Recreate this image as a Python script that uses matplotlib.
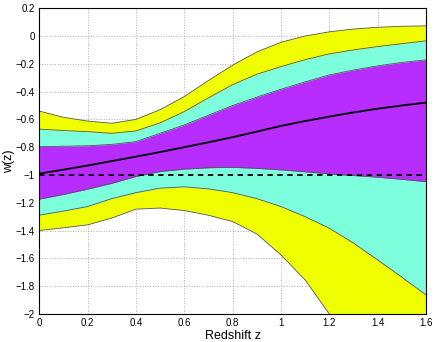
import numpy as np
import matplotlib
matplotlib.use("Agg")
import matplotlib.pyplot as plt

plt.rcParams['font.family'] = ['Liberation Sans', 'DejaVu Sans']

# redshift grid
z = [0.0, 0.1, 0.2, 0.3, 0.4, 0.5, 0.6, 0.7, 0.8, 0.9, 1.0, 1.1, 1.2, 1.3, 1.4, 1.5, 1.6]

# upper edges of the bands
yellow_top = [-0.54, -0.585, -0.612, -0.628, -0.60, -0.53, -0.436, -0.32, -0.21, -0.115, -0.045, 0.0, 0.03, 0.05, 0.063, 0.07, 0.073]
aqua_top = [-0.67, -0.68, -0.688, -0.70, -0.683, -0.625, -0.544, -0.445, -0.35, -0.275, -0.22, -0.17, -0.129, -0.10, -0.076, -0.055, -0.035]
purple_top = [-0.796, -0.793, -0.79, -0.78, -0.76, -0.70, -0.64, -0.57, -0.50, -0.44, -0.383, -0.33, -0.28, -0.245, -0.215, -0.19, -0.172]

# lower edges of the bands
purple_bot = [-1.174, -1.14, -1.102, -1.06, -1.011, -0.975, -0.958, -0.948, -0.945, -0.952, -0.963, -0.977, -0.992, -1.004, -1.016, -1.031, -1.048]
aqua_bot = [-1.289, -1.26, -1.227, -1.17, -1.127, -1.095, -1.085, -1.10, -1.127, -1.17, -1.227, -1.30, -1.383, -1.49, -1.611, -1.735, -1.863]
yellow_bot = [-1.40, -1.38, -1.359, -1.31, -1.246, -1.238, -1.256, -1.29, -1.335, -1.424, -1.575, -1.755, -2.0, -2.25, -2.5, -2.8, -3.1]

# best fit
median = [-0.99, -0.962, -0.932, -0.90, -0.868, -0.835, -0.80, -0.765, -0.728, -0.688, -0.647, -0.612, -0.58, -0.55, -0.523, -0.50, -0.479]

yellow = '#f0ff00'
aqua = '#7dffdd'
purple = '#b72cff'
edge = '#555555'

fig = plt.figure(figsize=(4.36, 3.42), dpi=100)
ax = fig.add_axes([0.09, 0.082, 0.887, 0.894])

ax.fill_between(z, yellow_bot, yellow_top, color=yellow, lw=0, zorder=1)
ax.fill_between(z, aqua_bot, aqua_top, color=aqua, lw=0, zorder=2)
ax.fill_between(z, purple_bot, purple_top, color=purple, lw=0, zorder=3)
for c in [yellow_top, aqua_top, purple_top, purple_bot, aqua_bot, yellow_bot]:
    ax.plot(z, c, color=edge, lw=0.6, zorder=4)

ax.plot(z, median, color='black', lw=1.3, zorder=5)
ax.axhline(-1, color='black', lw=1.3, ls=(0, (3, 2.5)), zorder=5)

ax.set_xlim(0, 1.6)
ax.set_ylim(-2, 0.2)
xt = np.arange(0, 1.61, 0.2)
yt = np.arange(-2, 0.21, 0.2)
ax.set_xticks(xt)
ax.set_xticklabels(['0', '0.2', '0.4', '0.6', '0.8', '1', '1.2', '1.4', '1.6'])
ax.set_yticks(yt)
ax.set_yticklabels(['\u22122', '\u22121.8', '\u22121.6', '\u22121.4', '\u22121.2', '\u22121',
                    '\u22120.8', '\u22120.6', '\u22120.4', '\u22120.2', '0', '0.2'])
ax.tick_params(length=0, labelsize=7, pad=3)
ax.grid(True, color='#b0b0b0', ls=':', lw=0.7, zorder=0)
ax.set_axisbelow(True)
for s in ax.spines.values():
    s.set_linewidth(0.8)
    s.set_zorder(6)

ax.set_xlabel('Redshift z', fontsize=9, labelpad=1)
ax.set_ylabel('w(z)', fontsize=9)
ax.yaxis.set_label_coords(-0.062, 0.5)

fig.savefig('out.png', dpi=100)
